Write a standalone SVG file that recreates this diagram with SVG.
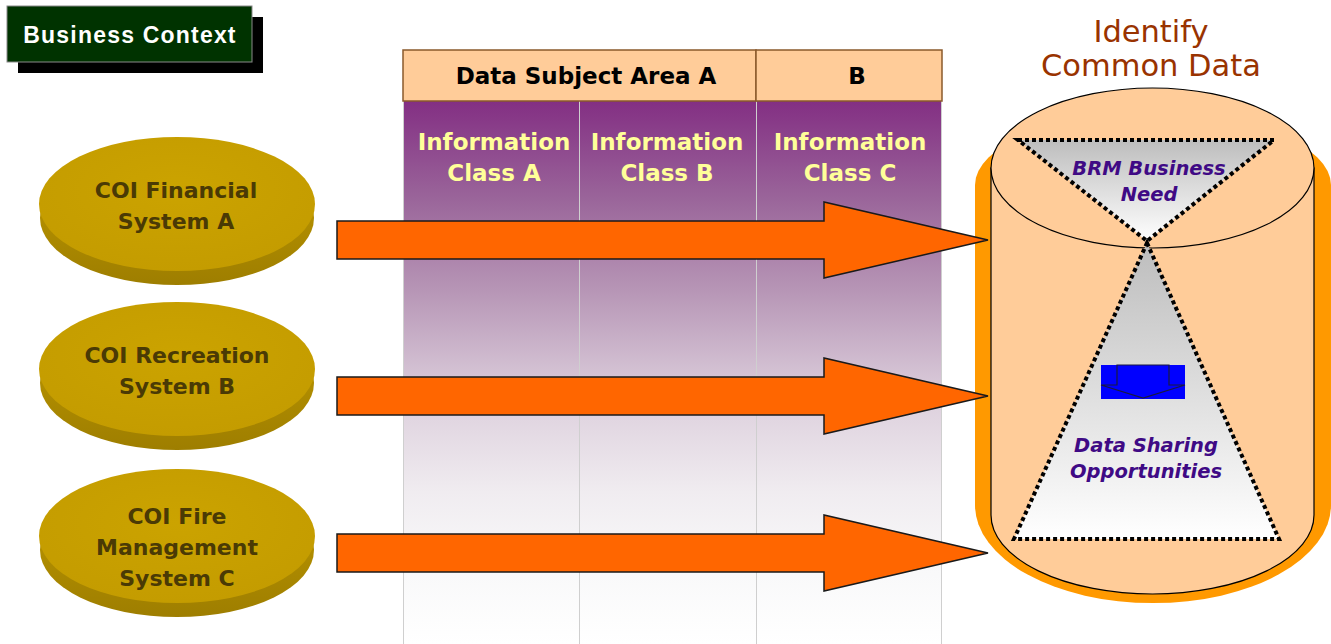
<svg xmlns="http://www.w3.org/2000/svg" width="1331" height="644" viewBox="0 0 1331 644">
  <defs>
    <linearGradient id="purpleFade" x1="0" y1="101" x2="0" y2="644" gradientUnits="userSpaceOnUse">
      <stop offset="0" stop-color="#832F83"/>
      <stop offset="0.18" stop-color="#9A659A"/>
      <stop offset="0.35" stop-color="#B796B6"/>
      <stop offset="0.55" stop-color="#DDD0DD"/>
      <stop offset="0.72" stop-color="#F0ECF0"/>
      <stop offset="0.85" stop-color="#F8F8F9"/>
      <stop offset="1" stop-color="#FFFFFF"/>
    </linearGradient>
    <linearGradient id="discSide" x1="0" y1="0" x2="0" y2="1">
      <stop offset="0" stop-color="#C29B00"/>
      <stop offset="1" stop-color="#9E7E00"/>
    </linearGradient>
    <radialGradient id="discTop" cx="0.5" cy="0.4" r="0.6">
      <stop offset="0" stop-color="#CBA300"/>
      <stop offset="1" stop-color="#C49C00"/>
    </radialGradient>
    <linearGradient id="greyFade" x1="0" y1="0" x2="0" y2="1">
      <stop offset="0" stop-color="#BDBDBD"/>
      <stop offset="1" stop-color="#FFFFFF"/>
    </linearGradient>
    <style>
      .hdr { fill: #FFCC99; stroke: #8B5A2B; stroke-width: 1.5; }
      .hdrText { font-family: "Comic Sans MS", "DejaVu Sans", sans-serif; font-weight: bold; font-size: 23px; fill: #000; text-anchor: middle; }
      .colLine { stroke: #CFCFCF; stroke-width: 1; }
      .infoText { font-family: "DejaVu Sans", Verdana, sans-serif; font-weight: bold; font-size: 23px; fill: #FFFF99; text-anchor: middle; }
      .discText { font-family: "Comic Sans MS", "DejaVu Sans", sans-serif; font-weight: bold; font-size: 22px; fill: #4A3A05; text-anchor: middle; }
      .arrow { fill: #FF6600; stroke: #1A1A1A; stroke-width: 1.5; stroke-linejoin: miter; }
      .dotted { stroke: #000; stroke-width: 4; stroke-dasharray: 4 3; fill: url(#greyFade); }
      .needText { font-family: "DejaVu Sans", Verdana, sans-serif; font-weight: bold; font-style: italic; font-size: 19.5px; fill: #3F0A85; text-anchor: middle; }
      .titleText { font-family: "DejaVu Sans", Verdana, sans-serif; font-size: 30.5px; fill: #993300; text-anchor: middle; }
    </style>
  </defs>

  <rect width="1331" height="644" fill="#FFFFFF"/>

  <!-- Business Context label with drop shadow -->
  <g id="business-context">
    <rect x="18" y="17" width="245" height="56" fill="#000000"/>
    <rect x="7" y="6" width="245" height="56" fill="#003300" stroke="#8A8A8A" stroke-width="1"/>
    <text x="130" y="43" font-family="Liberation Sans, Arial, sans-serif" font-weight="bold" font-size="23" letter-spacing="1.2" fill="#FFFFFF" text-anchor="middle">Business Context</text>
  </g>

  <!-- Subject area grid -->
  <g id="subject-grid">
    <rect x="403" y="101" width="539" height="543" fill="url(#purpleFade)"/>
    <line class="colLine" x1="403.5" y1="101" x2="403.5" y2="644"/>
    <line class="colLine" x1="579.5" y1="101" x2="579.5" y2="644"/>
    <line class="colLine" x1="756.5" y1="101" x2="756.5" y2="644"/>
    <line class="colLine" x1="941.5" y1="101" x2="941.5" y2="644"/>
    <rect class="hdr" x="403" y="50" width="353" height="51"/>
    <rect class="hdr" x="756" y="50" width="186" height="51"/>
    <text class="hdrText" x="586" y="84">Data Subject Area A</text>
    <text class="hdrText" x="857" y="84">B</text>
  </g>

  <g id="info-class-a">
    <text class="infoText" x="494" y="150">Information</text>
    <text class="infoText" x="494" y="181">Class A</text>
  </g>
  <g id="info-class-b">
    <text class="infoText" x="667" y="150">Information</text>
    <text class="infoText" x="667" y="181">Class B</text>
  </g>
  <g id="info-class-c">
    <text class="infoText" x="850" y="150">Information</text>
    <text class="infoText" x="850" y="181">Class C</text>
  </g>

  <!-- Source systems -->
  <g id="system-a">
    <ellipse cx="177" cy="218" rx="137" ry="67" fill="url(#discSide)"/>
    <ellipse cx="177" cy="204" rx="138" ry="67" fill="url(#discTop)"/>
    <text class="discText" x="176" y="198">COI Financial</text>
    <text class="discText" x="176" y="229">System A</text>
  </g>
  <g id="system-b">
    <ellipse cx="177" cy="383" rx="137" ry="67" fill="url(#discSide)"/>
    <ellipse cx="177" cy="369" rx="138" ry="67" fill="url(#discTop)"/>
    <text class="discText" x="177" y="363">COI Recreation</text>
    <text class="discText" x="177" y="394">System B</text>
  </g>
  <g id="system-c">
    <ellipse cx="177" cy="550" rx="137" ry="67" fill="url(#discSide)"/>
    <ellipse cx="177" cy="536" rx="138" ry="67" fill="url(#discTop)"/>
    <text class="discText" x="177" y="524">COI Fire</text>
    <text class="discText" x="177" y="555">Management</text>
    <text class="discText" x="177" y="586">System C</text>
  </g>

  <!-- Common data store -->
  <g id="common-data">
    <text class="titleText" x="1151" y="42">Identify</text>
    <text class="titleText" x="1151" y="76">Common Data</text>
    <path d="M975 185 V505 A176 97 0 0 0 1331 505 V185 A178 72 0 0 0 975 185 Z" fill="#FF9900"/>
    <path d="M991 168 V515 A161.5 79 0 0 0 1314 515 V168 Z" fill="#FFCC99" stroke="#000" stroke-width="1.2"/>
    <ellipse cx="1152.5" cy="168" rx="161.5" ry="80" fill="#FFCC99" stroke="#000" stroke-width="1.2"/>
  </g>

  <g id="brm-need">
    <polygon class="dotted" points="1018,140 1274,140 1147,241"/>
    <text class="needText" x="1149" y="175">BRM Business</text>
    <text class="needText" x="1149" y="201">Need</text>
  </g>

  <g id="sharing-opportunities">
    <polygon class="dotted" points="1147,243 1279,539 1014,539"/>
    <rect x="1101" y="365" width="84" height="34" fill="#0000FF"/>
    <path d="M1117 365 H1169 V385 H1185 L1143 398 L1101 385 H1117 Z" fill="none" stroke="#1A1A40" stroke-width="1.2"/>
    <text class="needText" x="1146" y="452">Data Sharing</text>
    <text class="needText" x="1146" y="478">Opportunities</text>
  </g>

  <!-- Flow arrows into the common data store -->
  <g id="connectors">
    <path class="arrow" d="M337 221 H824 V202 L988 240 L824 278 V259 H337 Z"/>
    <path class="arrow" d="M337 377 H824 V358 L988 396 L824 434 V415 H337 Z"/>
    <path class="arrow" d="M337 534 H824 V515 L988 553 L824 591 V572 H337 Z"/>
  </g>
</svg>
